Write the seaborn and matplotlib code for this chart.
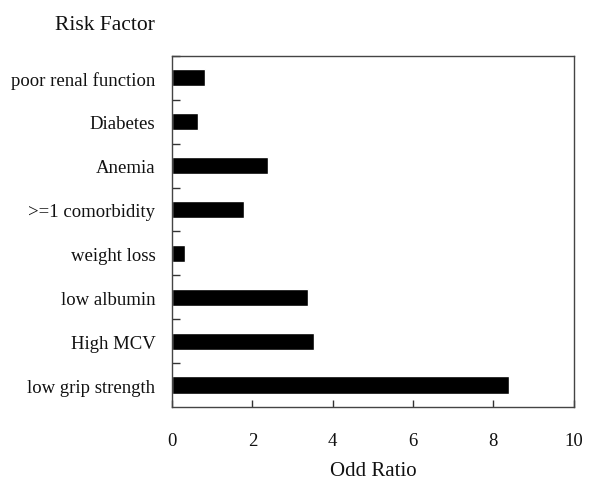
import numpy as np
import pandas as pd
import matplotlib
matplotlib.use("Agg")
import matplotlib.pyplot as plt
import seaborn as sns

# 風險因子與勝算比
factors = ['poor renal function', 'Diabetes', 'Anemia', '>=1 comorbidity',
           'weight loss', 'low albumin', 'High MCV', 'low grip strength']
odd_ratio = [0.82, 0.64, 2.40, 1.80, 0.33, 3.38, 3.54, 8.39]

df = pd.DataFrame({'Risk Factor': factors, 'Odd Ratio': odd_ratio})

sns.set_theme(style="white")
plt.rcParams['font.family'] = ['Liberation Serif', 'DejaVu Serif']

fig = plt.figure(figsize=(6, 4.85), dpi=100)
ax = fig.add_axes([0.2867, 0.1588, 0.6695, 0.7237])

sns.barplot(data=df, x='Odd Ratio', y='Risk Factor', color='black',
            width=0.39, orient='h', ax=ax)

ax.set_xlim(0, 10)
ax.set_ylim(len(factors) - 0.5, -0.5)
ax.set_xticks([0, 2, 4, 6, 8, 10])
ax.tick_params(axis='x', bottom=True, direction='in', length=5, width=1,
               color='#333333', pad=18, labelsize=13.5, labelcolor='#111111')
ax.tick_params(axis='y', which='major', left=False, length=0, pad=12,
               labelsize=13.5, labelcolor='#111111')
ax.set_yticks(np.arange(-0.5, len(factors) - 0.5, 1.0), minor=True)
ax.tick_params(axis='y', which='minor', left=True, direction='in', length=6,
               width=1, color='#333333')

for s in ax.spines.values():
    s.set_visible(True)
    s.set_color('#444444')
    s.set_linewidth(1.0)

ax.set_xlabel('Odd Ratio', fontsize=15, labelpad=9, color='#111111')
ax.set_ylabel('')
fig.text(0.258, 0.948, 'Risk Factor', ha='right', va='center', fontsize=15.5,
         color='#111111')

fig.savefig('out.png', dpi=100, facecolor='white')
